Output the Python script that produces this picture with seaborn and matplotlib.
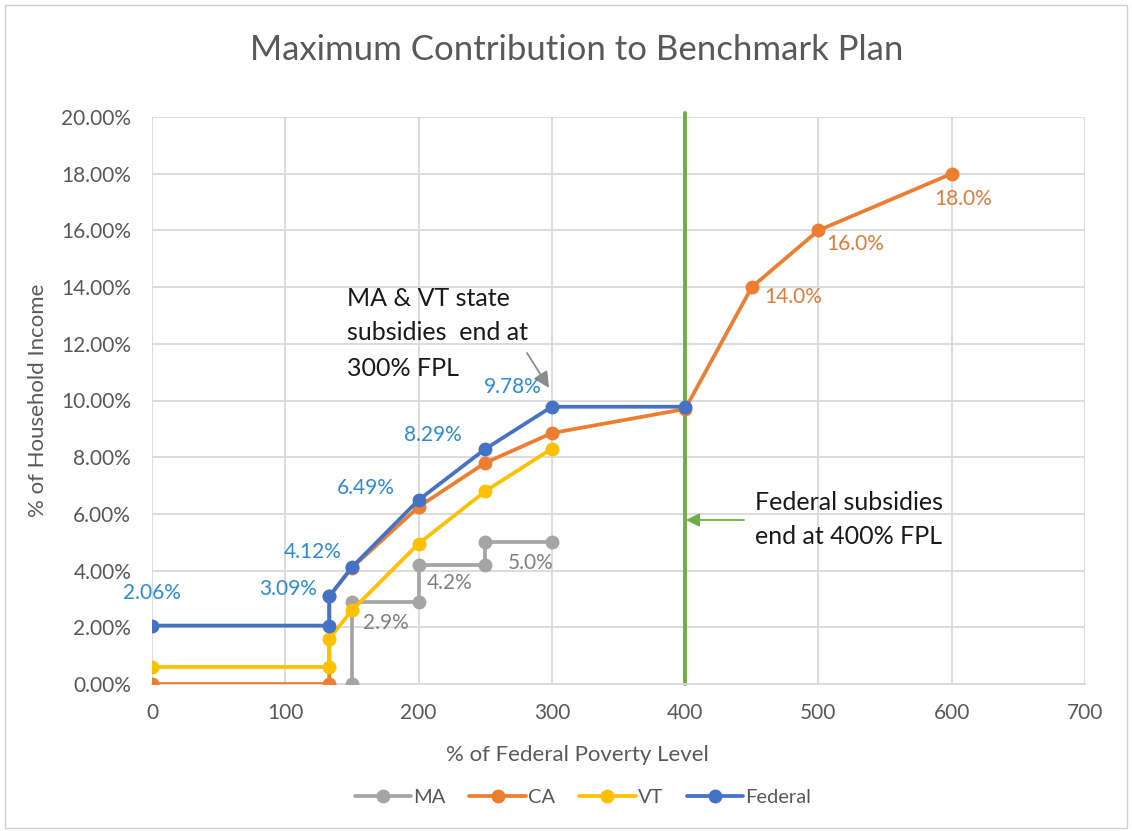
import matplotlib
matplotlib.use("Agg")
import matplotlib.pyplot as plt
import seaborn as sns
import numpy as np
from matplotlib.ticker import FuncFormatter, MultipleLocator
from matplotlib.lines import Line2D
from matplotlib.patches import Rectangle

# ---- data ----
ma_x = [150, 150, 200, 200, 250, 250, 300]
ma_y = [0.0, 2.9, 2.9, 4.2, 4.2, 5.0, 5.0]

ca_x = [0, 133, 133, 150, 200, 250, 300, 400, 450, 500, 600]
ca_y = [0.0, 0.0, 3.09, 4.1, 6.25, 7.8, 8.85, 9.7, 14.0, 16.0, 18.0]

vt_x = [0, 133, 133, 150, 200, 250, 300]
vt_y = [0.6, 0.6, 1.6, 2.6, 4.95, 6.8, 8.3]

fed_x = [0, 133, 133, 150, 200, 250, 300, 400]
fed_y = [2.06, 2.06, 3.09, 4.12, 6.49, 8.29, 9.78, 9.78]

series_names = ["MA", "CA", "VT", "Federal"]
series_colors = ["#A5A5A5", "#ED7D31", "#FFC000", "#4472C4"]

fed_labels = ["2.06%", "3.09%", "4.12%", "6.49%", "8.29%", "9.78%"]
ma_labels = ["2.9%", "4.2%", "5.0%"]
ca_labels = ["14.0%", "16.0%", "18.0%"]

sns.set_theme(style="white")
plt.rcParams['font.family'] = ['Lato', 'DejaVu Sans']

W, H = 1132, 831
fig = plt.figure(figsize=(W / 100, H / 100), dpi=100)
ax = fig.add_axes([152 / W, 1 - 684 / H, (1085 - 152) / W, (684 - 117) / H])

lw = 2.7
ms = 10
for (xs, ys), name, col in zip([(ma_x, ma_y), (ca_x, ca_y), (vt_x, vt_y), (fed_x, fed_y)],
                               series_names, series_colors):
    sns.lineplot(x=xs, y=ys, ax=ax, estimator=None, sort=False, color=col,
                 linewidth=lw, marker='o', markersize=ms, markeredgewidth=0,
                 label=name, legend=False, zorder=3)

# vertical green line at 400% FPL
ax.axvline(400, color="#70AD47", linewidth=2.8, zorder=2, ymin=0, ymax=1.007, clip_on=False)

ax.set_xlim(0, 700)
ax.set_ylim(0, 20)
ax.xaxis.set_major_locator(MultipleLocator(100))
ax.yaxis.set_major_locator(MultipleLocator(2))
ax.yaxis.set_major_formatter(FuncFormatter(lambda v, p: f"{v:.2f}%"))
ax.grid(True, color="#D9D9D9", linewidth=1.3)
ax.set_axisbelow(True)
for s in ["top", "right", "left"]:
    ax.spines[s].set_visible(False)
ax.spines["bottom"].set_color("#D9D9D9")
ax.spines["bottom"].set_linewidth(1.3)
ax.tick_params(axis='y', colors="#595959", labelsize=15, length=0, pad=15)
ax.tick_params(axis='x', colors="#595959", labelsize=15, length=0, pad=14)

ax.set_xlabel("")
ax.set_ylabel("")
fig.text(577 / W, 1 - 755 / H, "% of Federal Poverty Level", ha="center", va="center",
         fontsize=16, color="#595959")
fig.text(38 / W, 1 - 400 / H, "% of Household Income", ha="center", va="center",
         rotation=90, fontsize=16, color="#595959")

fig.text(577 / W, 1 - 50 / H, "Maximum Contribution to Benchmark Plan",
         ha="center", va="center", fontsize=25, color="#595959")

# data labels (offsets in pixels relative to the point; label centre)
lab_fs = 15
fed_lab_pos = [(0, 2.06, 0, 33, "center"),
               (133, 3.09, -12, 7, "right"),
               (150, 4.12, -10, 15, "right"),
               (200, 6.49, -24, 12, "right"),
               (250, 8.29, -23, 14, "right"),
               (300, 9.78, -10, 20, "right")]
for (x, y, dx, dy, ha), t in zip(fed_lab_pos, fed_labels):
    ax.annotate(t, (x, y), xytext=(dx, dy), textcoords="offset pixels",
                ha=ha, va="center", fontsize=lab_fs, color="#2E8AD8", zorder=5)

ma_lab_pos = [(150, 2.9, 11, -21), (200, 4.2, 8, -18), (250, 5.0, 23, -21)]
for (x, y, dx, dy), t in zip(ma_lab_pos, ma_labels):
    ax.annotate(t, (x, y), xytext=(dx, dy), textcoords="offset pixels",
                ha="left", va="center", fontsize=lab_fs, color="#808080", zorder=5)

ca_lab_pos = [(450, 14.0, 12, -10, "left"), (500, 16.0, 8, -14, "left"),
              (600, 18.0, 11, -25, "center")]
for (x, y, dx, dy, ha), t in zip(ca_lab_pos, ca_labels):
    ax.annotate(t, (x, y), xytext=(dx, dy), textcoords="offset pixels",
                ha=ha, va="center", fontsize=lab_fs, color="#E07B39", zorder=5)

# annotations
def px(xp, yp):
    return ((xp - 152) / (1085 - 152) * 700, (684 - yp) / (684 - 117) * 20)

note1 = ["MA & VT state", "subsidies  end at", "300% FPL"]
for t, yp in zip(note1, [298, 333, 368]):
    ax.text(*px(347, yp), t, ha="left", va="center", fontsize=18, color="#1A1A1A")
ax.annotate("", xy=px(549, 388), xytext=px(527, 353),
            arrowprops=dict(arrowstyle="-|>", color="#8C8C8C", lw=1.3,
                            mutation_scale=24, shrinkA=0, shrinkB=0))

note2 = ["Federal subsidies", "end at 400% FPL"]
for t, yp in zip(note2, [502, 537]):
    ax.text(*px(755, yp), t, ha="left", va="center", fontsize=18, color="#1A1A1A")
ax.annotate("", xy=px(686, 520), xytext=px(744, 520),
            arrowprops=dict(arrowstyle="-|>", color="#70AD47", lw=1.3,
                            mutation_scale=20, shrinkA=0, shrinkB=0))

# legend
handles = [Line2D([0], [0], color=c, lw=lw, marker='o', markersize=ms, markeredgewidth=0)
           for c in series_colors]
leg = fig.legend(handles, series_names, loc="center", ncol=4,
                 bbox_to_anchor=(583 / W, 1 - 797 / H), frameon=False,
                 fontsize=14.5, handlelength=2.8, handletextpad=0.1, columnspacing=1.2)
for t in leg.get_texts():
    t.set_color("#595959")

# figure border
fig.patches.append(Rectangle((0.004, 0.004), 0.992, 0.99, transform=fig.transFigure,
                             fill=False, edgecolor="#D0D0D0", linewidth=1.0))

fig.savefig("out.png", dpi=100)
